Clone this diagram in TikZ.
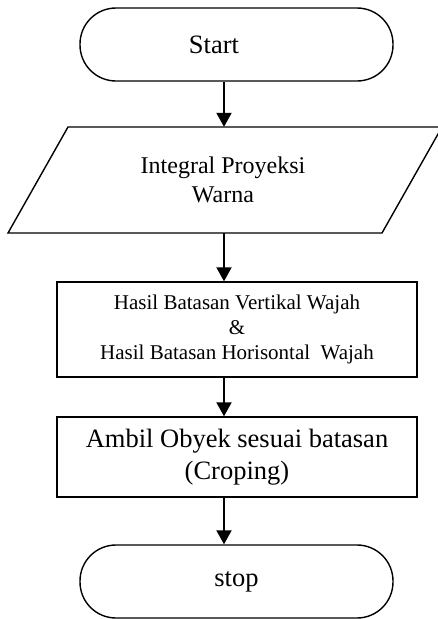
\documentclass[tikz,border=0pt]{standalone}
\usepackage{fontspec}
\setmainfont{Liberation Serif}
\usetikzlibrary{arrows.meta}
\begin{document}
\begin{tikzpicture}[x=1pt,y=-1pt,
  shapeline/.style={draw=black,line width=1.4pt},
  term/.style={shapeline,rectangle,rounded corners=36pt,minimum width=313pt,minimum height=73pt,inner sep=0pt,font=\fontsize{26.5}{32}\selectfont},
  procbox/.style={shapeline,rectangle,minimum width=360pt,inner sep=0pt,align=center},
  arr/.style={line width=2pt,-{Triangle[length=14pt,width=15pt]}}]
\useasboundingbox (0,0) rectangle (437,619);
\coordinate (ax) at (224,0);
\node[term] (start) at (236.5,44.5) {\hspace*{-45pt}Start};
\draw[shapeline,line join=miter] (8,233) -- (382,233) -- (442,127) -- (68,127) -- cycle;
\node[rectangle,minimum height=106pt,inner sep=0pt,align=center,font=\fontsize{24}{29}\selectfont] (io) at (223,180) {Integral Proyeksi\\Warna};
\node[procbox,minimum height=95pt,font=\fontsize{21}{25}\selectfont] (res) at (237,329.5) {Hasil Batasan Vertikal Wajah\\\&\\Hasil Batasan Horisontal\ \ Wajah};
\node[procbox,minimum height=80pt,font=\fontsize{26.5}{32}\selectfont] (crop) at (237,457) {Ambil Obyek sesuai batasan\\(Croping)};
\node[term] (stop) at (236.5,581.5) {stop};
\draw[arr] (start.south -| ax) -- (io.north -| ax);
\draw[arr] (io.south -| ax) -- (res.north -| ax);
\draw[arr] (res.south -| ax) -- (crop.north -| ax);
\draw[arr] (crop.south -| ax) -- (stop.north -| ax);
\end{tikzpicture}
\end{document}
